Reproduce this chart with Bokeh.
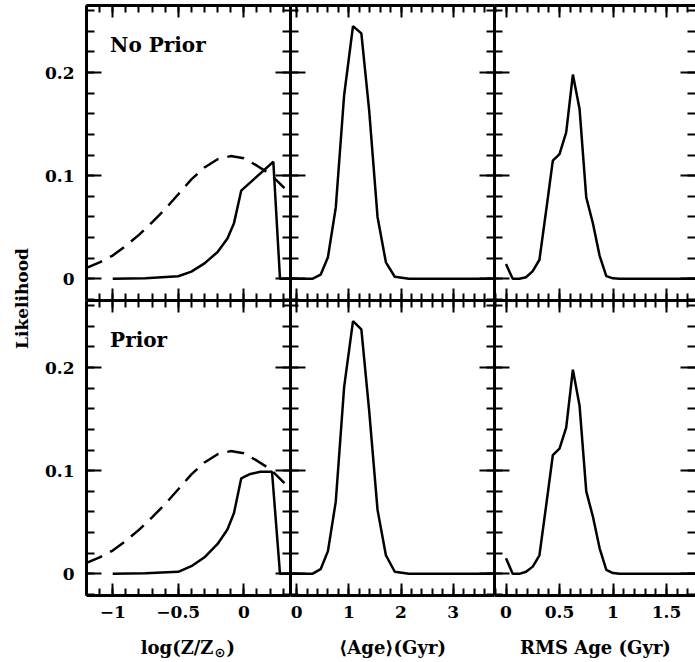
import numpy as np
from bokeh.plotting import figure
from bokeh.layouts import row, column
from bokeh.models import LinearAxis, FixedTicker, Range1d, Label
from bokeh.embed import file_html
from bokeh.resources import INLINE

# ---------------- data ----------------
# metallicity panel (log Z/Zsun)
Z_PRIOR_X = [-1.2, -1.1, -1.0, -0.9, -0.8, -0.7, -0.6, -0.5, -0.4, -0.3, -0.2, -0.1, 0.0, 0.1, 0.2, 0.31]
Z_PRIOR_Y = [0.0106, 0.016, 0.0226, 0.032, 0.0426, 0.0548, 0.0677, 0.082, 0.0965, 0.108, 0.116, 0.119, 0.117, 0.1097, 0.1016, 0.088]

Z_NOPRIOR_X = [-1.0, -0.75, -0.5, -0.4, -0.3, -0.2, -0.125, -0.075, -0.02, 0.225, 0.276, 0.35]
Z_NOPRIOR_Y = [0.0, 0.0005, 0.0025, 0.007, 0.015, 0.026, 0.039, 0.054, 0.0855, 0.1135, 0.0, 0.0]

Z_PRIOR_LIK_X = [-1.0, -0.75, -0.5, -0.4, -0.3, -0.2, -0.125, -0.075, -0.02, 0.05, 0.125, 0.215, 0.276, 0.35]
Z_PRIOR_LIK_Y = [0.0, 0.0005, 0.002, 0.0074, 0.016, 0.029, 0.043, 0.059, 0.0925, 0.0968, 0.099, 0.099, 0.0, 0.0]

# mean age panel (Gyr)
AGE_X = [-0.12, 0.3, 0.46, 0.6, 0.75, 0.91, 1.08, 1.24, 1.39, 1.55, 1.71, 1.88, 2.15, 3.8]
AGE_NOPRIOR_Y = [0.0, 0.0, 0.004, 0.021, 0.069, 0.178, 0.245, 0.238, 0.163, 0.06, 0.016, 0.002, 0.0, 0.0]
AGE_PRIOR_Y = [0.0, 0.0, 0.0045, 0.022, 0.07, 0.181, 0.245, 0.237, 0.158, 0.062, 0.018, 0.002, 0.0, 0.0]

# RMS age panel (Gyr)
RMS_X = [0.0, 0.0625, 0.125, 0.1875, 0.25, 0.3125, 0.375, 0.4375, 0.5, 0.5625, 0.625,
         0.6875, 0.75, 0.8125, 0.875, 0.9375, 1.0, 1.0625, 1.8]
RMS_NOPRIOR_Y = [0.0143, 0.0, 0.0, 0.0015, 0.0075, 0.0185, 0.066, 0.1146, 0.121, 0.142, 0.198,
                 0.1647, 0.079, 0.0537, 0.0223, 0.0026, 0.0005, 0.0, 0.0]
RMS_PRIOR_Y = [0.0151, 0.0, 0.0, 0.002, 0.007, 0.018, 0.066, 0.115, 0.1214, 0.1417, 0.198,
               0.163, 0.080, 0.0554, 0.0248, 0.0039, 0.0008, 0.0, 0.0]

# ticks / labels
Y_TICKS = [0, 0.1, 0.2]
Y_TICK_LABELS = ["0", "0.1", "0.2"]
Z_TICKS = [-1, -0.5, 0]
Z_TICK_LABELS = ["\u22121", "\u22120.5", "0"]
AGE_TICKS = [0, 1, 2, 3]
AGE_TICK_LABELS = ["0", "1", "2", "3"]
RMS_TICKS = [0, 0.5, 1, 1.5]
RMS_TICK_LABELS = ["0", "0.5", "1", "1.5"]
ROW_TITLES = ["No Prior", "Prior"]
Y_TITLE = "Likelihood"
AGE_TITLE = "\u27e8Age\u27e9(Gyr)"
RMS_TITLE = "RMS Age (Gyr)"

# ---------------- style ----------------
FONT = "DejaVu Serif"
Y_RANGE = (-0.021, 0.265)
Y_MINOR = list(np.round(np.arange(-0.02, 0.2601, 0.02), 3))
Z_RANGE = (-1.2, 0.356)
AGE_RANGE = (-0.117, 3.79)
RMS_RANGE = (-0.1075, 1.771)
Z_MINOR = list(np.round(np.arange(-1.2, 0.36, 0.1), 2))
AGE_MINOR = list(np.round(np.arange(0, 3.81, 0.2), 2))
RMS_MINOR = list(np.round(np.arange(-0.1, 1.8, 0.1), 2))


def base_axis(ax, line=True):
    ax.major_tick_out = 0
    ax.minor_tick_out = 0
    ax.major_tick_line_width = 2
    ax.minor_tick_line_width = 2
    ax.major_tick_line_color = "black"
    ax.minor_tick_line_color = "black"
    ax.axis_line_width = 3
    ax.axis_line_color = "black" if line else None
    ax.major_label_standoff = 0


def labelled_axis(major, minor, labels, tmaj, tmin, standoff):
    ax = LinearAxis(ticker=FixedTicker(ticks=major, minor_ticks=minor))
    base_axis(ax)
    ax.major_tick_in = tmaj
    ax.minor_tick_in = tmin
    ax.major_label_overrides = dict(zip(major, labels))
    ax.major_label_text_font = FONT
    ax.major_label_text_font_style = "bold"
    ax.major_label_text_font_size = "17px"
    ax.major_label_text_color = "black"
    ax.major_label_standoff = standoff
    return ax


def bare_axes(major, minor, tmaj, tmin, line=True):
    # two label-free axes on one side: long ticks at majors, short at minors
    a1 = LinearAxis(ticker=FixedTicker(ticks=[], minor_ticks=minor))
    base_axis(a1, line)
    a1.minor_tick_in = tmin
    a2 = LinearAxis(ticker=FixedTicker(ticks=[], minor_ticks=major))
    base_axis(a2, line)
    a2.minor_tick_in = tmaj
    return [a1, a2]


def panel(xr, xticks, xlabels, xminor, width, height, bl, bt, bb,
          ylab=False, xlab=False, right_line=True):
    p = figure(width=width, height=height, x_range=Range1d(*xr), y_range=Range1d(*Y_RANGE),
               x_axis_location=None, y_axis_location=None, toolbar_location=None,
               output_backend="svg", min_border_left=bl, min_border_right=0,
               min_border_top=bt, min_border_bottom=bb, outline_line_color=None)
    p.grid.visible = False
    # bottom
    if xlab:
        p.add_layout(labelled_axis(xticks, xminor, xlabels, 12, 7, 10), "below")
    else:
        for a in bare_axes(xticks, xminor, 12, 7):
            p.add_layout(a, "below")
    # top
    for a in bare_axes(xticks, xminor, 12, 7):
        p.add_layout(a, "above")
    # left
    if ylab:
        p.add_layout(labelled_axis(Y_TICKS, Y_MINOR, Y_TICK_LABELS, 15, 8, 12), "left")
    else:
        for a in bare_axes(Y_TICKS, Y_MINOR, 15, 8):
            p.add_layout(a, "left")
    # right
    for a in bare_axes(Y_TICKS, Y_MINOR, 15, 8, line=right_line):
        p.add_layout(a, "right")
    return p


W1, W2, W3 = 260, 204, 201
H1, H2, H3 = 300, 330, 32

p11 = panel(Z_RANGE, Z_TICKS, Z_TICK_LABELS, Z_MINOR, W1, H1, 56, 5, 0, ylab=True)
p12 = panel(AGE_RANGE, AGE_TICKS, AGE_TICK_LABELS, AGE_MINOR, W2, H1, 0, 5, 0)
p13 = panel(RMS_RANGE, RMS_TICKS, RMS_TICK_LABELS, RMS_MINOR, W3, H1, 0, 5, 0, right_line=False)
p21 = panel(Z_RANGE, Z_TICKS, Z_TICK_LABELS, Z_MINOR, W1, H2, 56, 0, 35, ylab=True, xlab=True)
p22 = panel(AGE_RANGE, AGE_TICKS, AGE_TICK_LABELS, AGE_MINOR, W2, H2, 0, 0, 35, xlab=True)
p23 = panel(RMS_RANGE, RMS_TICKS, RMS_TICK_LABELS, RMS_MINOR, W3, H2, 0, 0, 35, xlab=True,
            right_line=False)

LW = 2.5
# metallicity
p11.line(Z_PRIOR_X, Z_PRIOR_Y, line_width=LW, color="black", line_dash="17 9")
p11.line(Z_NOPRIOR_X, Z_NOPRIOR_Y, line_width=LW, color="black")
p21.line(Z_PRIOR_X, Z_PRIOR_Y, line_width=LW, color="black", line_dash="17 9")
p21.line(Z_PRIOR_LIK_X, Z_PRIOR_LIK_Y, line_width=LW, color="black")
# mean age
p12.line(AGE_X, AGE_NOPRIOR_Y, line_width=LW, color="black")
p22.line(AGE_X, AGE_PRIOR_Y, line_width=LW, color="black")
# rms age
p13.line(RMS_X, RMS_NOPRIOR_Y, line_width=LW, color="black")
p23.line(RMS_X, RMS_PRIOR_Y, line_width=LW, color="black")

# row titles
for p, t in zip([p11, p21], ROW_TITLES):
    p.add_layout(Label(x=-1.02, y=0.227, text=t, text_font=FONT, text_font_style="bold",
                       text_font_size="20px", text_color="black", text_baseline="alphabetic"))


def txt(fig, x, y, text, align="center", size="18px", font=FONT, angle=0.0):
    fig.add_layout(Label(x=x, y=y, x_units="screen", y_units="screen", text=text,
                         text_align=align, text_baseline="alphabetic", text_font=font,
                         text_font_style="bold", text_font_size=size, text_color="black",
                         angle=angle))


# strip holding the x-axis titles
strip = figure(width=W1 + W2 + W3, height=H3, x_axis_location=None, y_axis_location=None,
               toolbar_location=None, output_backend="svg", min_border=0, outline_line_color=None)
strip.grid.visible = False
txt(strip, 183, 15, "log(Z/Z", align="right")
txt(strip, 184, 10, "\u2299", align="left", size="13px", font="DejaVu Sans")
txt(strip, 196, 15, ")", align="left")
txt(strip, 362, 15, AGE_TITLE)
txt(strip, 565, 15, RMS_TITLE)

# y-axis title spanning both rows
lab = figure(width=30, height=662, x_axis_location=None, y_axis_location=None,
             toolbar_location=None, output_backend="svg", min_border=0, outline_line_color=None)
lab.grid.visible = False
txt(lab, 21, 364, Y_TITLE, size="17px", angle=np.pi / 2)

layout = row(lab, column(row(p11, p12, p13), row(p21, p22, p23), strip))

with open("out.html", "w") as f:
    f.write(file_html(layout, INLINE))
